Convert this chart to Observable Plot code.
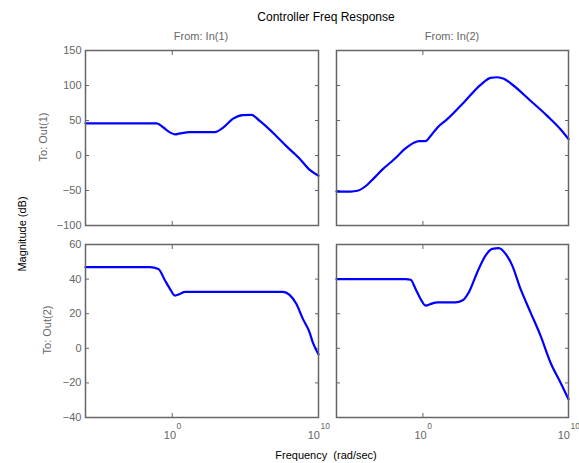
<!DOCTYPE html>
<html><head><meta charset="utf-8">
<script src="https://cdn.jsdelivr.net/npm/d3@7"></script>
<script src="https://cdn.jsdelivr.net/npm/@observablehq/plot@0.6"></script>
<style>
body{margin:0;background:#fff;}
#fig{position:relative;width:579px;height:463px;font-family:"Liberation Sans",Arial,sans-serif;overflow:hidden;background:#fff;}
.lbl{position:absolute;white-space:pre;font-size:11px;line-height:1;transform:translate(-50%,-50%);}
.rot{transform:translate(-50%,-50%) rotate(-90deg);}
.pl{position:absolute;}
</style></head><body><div id="fig"></div>
<script>
// ---- text ----
const title = "Controller Freq Response";
const inputs = ["From: In(1)", "From: In(2)"];
const outputs = ["To: Out(1)", "To: Out(2)"];
const yLabel = "Magnitude (dB)";
const xLabel = "Frequency  (rad/sec)";

// ---- axes ----
const xDomain = [0.255, 10];
const xTicks = [1, 10];
const xTickExponents = ["0", "10"];
const yDomainRow1 = [-100, 150];
const yTicksRow1 = [-100, -50, 0, 50, 100, 150];
const yDomainRow2 = [-40, 60];
const yTicksRow2 = [-40, -20, 0, 20, 40, 60];

// ---- data: Out(1) <- In(1) ----
const freq11 = [0.255, 0.783, 0.869, 0.964, 1.043, 1.128, 1.321, 1.954, 2.228, 2.606, 3.034, 3.475, 3.963, 4.876, 6.026, 7.413, 8.670, 10];
const mag11  = [46, 46, 40, 33, 30.3, 31.5, 33.3, 33.5, 39.8, 52.7, 57.8, 58, 49.4, 32.6, 13.4, -4.3, -20.2, -29];
// ---- Out(1) <- In(2) ----
const freq12 = [0.255, 0.319, 0.355, 0.415, 0.461, 0.526, 0.632, 0.760, 0.867, 0.939, 1.044, 1.129, 1.256, 1.470, 1.910, 2.489, 2.915, 3.243, 3.597, 4.000, 5.484, 7.142, 8.810, 10];
const mag12  = [-51.5, -51.5, -50.4, -41.8, -32.3, -20.2, -5.8, 10.1, 18.2, 20.6, 20.6, 27.8, 39.8, 51.9, 75.8, 100.9, 111, 111.8, 109.5, 103.2, 78.2, 56.6, 37.5, 23.5];
// ---- Out(2) <- In(1) ----
const freq21 = [0.255, 0.705, 0.803, 0.892, 0.964, 1.043, 1.128, 1.222, 5.71, 6.34, 7.05, 7.82, 8.69, 9.14, 10];
const mag21  = [46.9, 46.9, 45.9, 39.2, 34.4, 30.5, 31.4, 32.6, 32.6, 30.9, 25.7, 17, 9.2, 3.4, -3.5];
// ---- Out(2) <- In(2) ----
const freq22 = [0.255, 0.760, 0.824, 0.891, 0.964, 1.044, 1.129, 1.256, 1.675, 1.864, 2.069, 2.363, 2.692, 2.994, 3.324, 3.697, 4.109, 4.684, 5.484, 6.427, 7.516, 8.810, 10];
const mag22  = [40, 40, 39.6, 34.3, 28.5, 24.7, 25.6, 26.6, 26.6, 27.6, 32.4, 44, 53.6, 57.5, 57.9, 54.6, 47.8, 34.3, 20.8, 7.3, -8.2, -19.8, -29.5];

const fig = document.getElementById("fig");
const GRAY = "#666666";

function addLabel(text, cx, cy, opts = {}) {
  const d = document.createElement("div");
  d.className = "lbl" + (opts.rot ? " rot" : "");
  d.textContent = text;
  d.style.left = cx + "px";
  d.style.top = cy + "px";
  d.style.color = opts.color || "#000";
  if (opts.size) d.style.fontSize = opts.size + "px";
  fig.appendChild(d);
}

function panel({freq, mag, yDomain, yTicks, showY, showX, left, top, width, height, mt, mr, mb, ml}) {
  const data = freq.map((f, i) => ({f, m: mag[i]}));
  const tickOpts = {tickSize: -4, tickFormat: () => "", stroke: GRAY, label: null};
  const marks = [
    Plot.axisY({...tickOpts, ticks: yTicks, anchor: "left"}),
    Plot.axisY({...tickOpts, ticks: yTicks, anchor: "right"}),
    Plot.axisX({...tickOpts, ticks: xTicks, anchor: "top"}),
    Plot.axisX({...tickOpts, ticks: xTicks, anchor: "bottom"}),
    Plot.line(data, {x: "f", y: "m", stroke: "#0000ff", strokeWidth: 2.2, curve: "monotone-x"}),
    Plot.frame({stroke: GRAY, strokeWidth: 1.5})
  ];
  if (showY) {
    marks.push(Plot.axisY({ticks: yTicks, anchor: "left", tickSize: 0, tickPadding: 4, fill: GRAY, fontSize: 11, label: null}));
  }
  if (showX) {
    xTicks.forEach((t, i) => {
      const bw = 2 * 6.1, sw = xTickExponents[i].length * 4.7;
      const off = (bw - sw) / 2;
      marks.push(Plot.text([t], {x: d => d, frameAnchor: "bottom", text: () => "10", textAnchor: "end", dx: off, dy: 21, fontSize: 11, fill: GRAY}));
      marks.push(Plot.text([t], {x: d => d, frameAnchor: "bottom", text: () => xTickExponents[i], textAnchor: "start", dx: off + 0.5, dy: 11, fontSize: 8.5, fill: GRAY}));
    });
  }
  const svg = Plot.plot({
    width, height, marginTop: mt, marginRight: mr, marginBottom: mb, marginLeft: ml,
    x: {type: "log", domain: xDomain},
    y: {domain: yDomain},
    style: {background: "transparent", overflow: "visible", fontFamily: "Liberation Sans, Arial, sans-serif", fontSize: "11px"},
    marks
  });
  svg.classList.add("pl");
  svg.style.left = left + "px";
  svg.style.top = top + "px";
  fig.appendChild(svg);
}

// frames: TL x85..318 y50..225 ; TR x336..568 ; BL y244..417
panel({freq: freq11, mag: mag11, yDomain: yDomainRow1, yTicks: yTicksRow1, showY: true, showX: false,
  left: 0, top: 40, width: 330, height: 195, mt: 10, mr: 12, mb: 10, ml: 85});
panel({freq: freq12, mag: mag12, yDomain: yDomainRow1, yTicks: yTicksRow1, showY: false, showX: false,
  left: 330, top: 40, width: 249, height: 195, mt: 10, mr: 11, mb: 10, ml: 6});
panel({freq: freq21, mag: mag21, yDomain: yDomainRow2, yTicks: yTicksRow2, showY: true, showX: true,
  left: 0, top: 235, width: 330, height: 228, mt: 9, mr: 12, mb: 46, ml: 85});
panel({freq: freq22, mag: mag22, yDomain: yDomainRow2, yTicks: yTicksRow2, showY: false, showX: true,
  left: 330, top: 235, width: 249, height: 228, mt: 9, mr: 11, mb: 46, ml: 6});

addLabel(title, 326, 17, {size: 12});
addLabel(inputs[0], 201, 36, {color: GRAY});
addLabel(inputs[1], 452, 36, {color: GRAY});
addLabel(yLabel, 22, 234, {rot: true});
addLabel(outputs[0], 43, 137, {rot: true, color: GRAY});
addLabel(outputs[1], 47, 330, {rot: true, color: GRAY});
addLabel(xLabel, 326, 455);
</script></body></html>
